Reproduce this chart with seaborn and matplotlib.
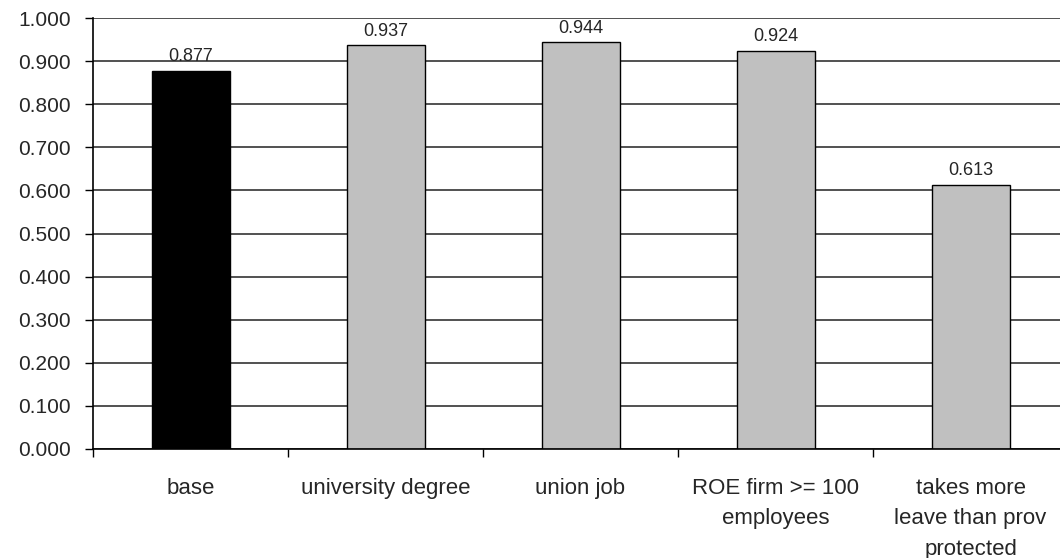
import numpy as np
import pandas as pd
import matplotlib
matplotlib.use("Agg")
import matplotlib.pyplot as plt
from matplotlib.ticker import FormatStrFormatter, FixedLocator
import seaborn as sns

# Chart data
categories = ["base", "university degree", "union job",
              "ROE firm >= 100\nemployees", "takes more\nleave than prov\nprotected"]
values = [0.877, 0.937, 0.944, 0.924, 0.613]
bar_colors = ["#000000", "#C0C0C0", "#C0C0C0", "#C0C0C0", "#C0C0C0"]
y_ticks = [0.0, 0.1, 0.2, 0.3, 0.4, 0.5, 0.6, 0.7, 0.8, 0.9, 1.0]

sns.set_style("white")
plt.rcParams["font.family"] = ["Liberation Sans", "DejaVu Sans"]

df = pd.DataFrame({"category": categories, "value": values})

fig = plt.figure(figsize=(10.6, 5.58), dpi=100)
# axes extends slightly past the right edge, like the source picture
ax = fig.add_axes([93 / 1060, 109 / 558, 975 / 1060, 431 / 558])

sns.barplot(data=df, x="category", y="value", hue="category", palette=bar_colors,
            legend=False, width=0.4, edgecolor="black", linewidth=1, ax=ax,
            zorder=3)

# Gridlines
for t in y_ticks:
    ax.axhline(t, color="#333333", lw=1.2, zorder=1)

ax.set_ylim(0, 1.0)
ax.set_xlim(-0.5, 4.5)
ax.set_yticks(y_ticks)
ax.yaxis.set_major_formatter(FormatStrFormatter("%.3f"))
ax.tick_params(axis="y", length=6, width=1, color="black", labelsize=15,
               pad=10, left=True)

# Category labels at centres, tick marks at boundaries
ax.set_xticks(range(len(categories)))
ax.set_xticklabels(categories, fontsize=16, linespacing=1.58, va="top")
ax.tick_params(axis="x", which="major", length=0, pad=21)
ax.xaxis.set_minor_locator(FixedLocator(np.arange(-0.5, len(categories), 1.0)))
ax.tick_params(axis="x", which="minor", length=6, width=1, color="black",
               bottom=True)

ax.set_xlabel("")
ax.set_ylabel("")

for side in ["top", "right"]:
    ax.spines[side].set_visible(False)
for side in ["left", "bottom"]:
    ax.spines[side].set_color("black")
    ax.spines[side].set_linewidth(1.2)
    ax.spines[side].set_zorder(4)

for cont in ax.containers:
    ax.bar_label(cont, fmt="%.3f", padding=4, fontsize=13)

fig.savefig("out.png", dpi=100)
